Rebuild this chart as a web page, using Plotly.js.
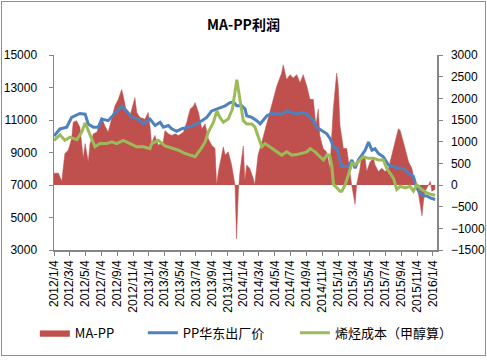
<!DOCTYPE html>
<html><head><meta charset="utf-8">
<script src="https://cdn.plot.ly/plotly-3.0.1.min.js"></script>
<style>
html,body{margin:0;padding:0;background:#fff;}
#wrap{position:relative;width:487px;height:360px;}
#chart{width:487px;height:360px;}
#frame{position:absolute;left:1px;top:1px;width:483px;height:353px;border:1px solid #8e8e8e;pointer-events:none;}
</style></head><body>
<div id="wrap"><div id="chart"></div><div id="frame"></div></div>
<script>
// ---- data ----
const seriesNames = ['MA-PP', 'PP华东出厂价', '烯烃成本（甲醇算）'];
const xTickLabels = ['2012/1/4','2012/3/4','2012/5/4','2012/7/4','2012/9/4','2012/11/4',
  '2013/1/4','2013/3/4','2013/5/4','2013/7/4','2013/9/4','2013/11/4',
  '2014/1/4','2014/3/4','2014/5/4','2014/7/4','2014/9/4','2014/11/4',
  '2015/1/4','2015/3/4','2015/5/4','2015/7/4','2015/9/4','2015/11/4','2016/1/4'];

const profitDates = ['2012-01-04','2012-01-21','2012-02-03','2012-02-09','2012-02-15','2012-02-28','2012-03-12','2012-03-18','2012-03-31','2012-04-13','2012-04-26','2012-05-03','2012-05-15','2012-05-22','2012-06-04','2012-06-17','2012-07-06','2012-07-18','2012-07-31','2012-08-13','2012-08-26','2012-09-08','2012-09-21','2012-09-27','2012-10-10','2012-10-23','2012-11-05','2012-11-11','2012-11-18','2012-11-30','2012-12-20','2013-01-01','2013-01-08','2013-01-14','2013-01-27','2013-02-09','2013-02-28','2013-03-07','2013-03-20','2013-04-02','2013-04-15','2013-04-28','2013-05-17','2013-05-30','2013-06-12','2013-06-25','2013-07-01','2013-07-14','2013-07-27','2013-08-09','2013-08-21','2013-09-03','2013-09-16','2013-09-22','2013-09-29','2013-10-09','2013-10-18','2013-10-25','2013-11-06','2013-11-19','2013-11-25','2013-12-02','2013-12-08','2013-12-15','2013-12-21','2013-12-28','2014-01-03','2014-01-09','2014-01-16','2014-01-28','2014-02-10','2014-02-16','2014-03-01','2014-03-14','2014-04-03','2014-04-23','2014-05-12','2014-05-31','2014-06-06','2014-06-19','2014-07-02','2014-07-15','2014-07-28','2014-08-10','2014-08-22','2014-09-05','2014-09-17','2014-09-30','2014-10-10','2014-10-19','2014-10-25','2014-11-07','2014-11-20','2014-12-03','2014-12-16','2014-12-29','2015-01-04','2015-01-11','2015-01-24','2015-02-06','2015-02-12','2015-02-25','2015-03-10','2015-03-16','2015-03-29','2015-04-05','2015-04-18','2015-04-24','2015-05-07','2015-05-20','2015-05-26','2015-06-08','2015-06-21','2015-07-04','2015-07-17','2015-07-30','2015-08-12','2015-08-24','2015-08-31','2015-09-06','2015-09-19','2015-10-02','2015-10-15','2015-10-28','2015-11-10','2015-11-16','2015-11-23','2015-11-29','2015-12-05','2015-12-18','2015-12-25','2015-12-31','2016-01-13'];
const profitValues = [273,273,84,386,727,803,1068,1447,1484,1333,614,955,538,955,1182,1220,1561,1370,1220,1523,1825,1977,2205,2053,1675,1600,1901,2016,1675,1561,1520,1675,1370,955,1145,920,993,1257,1182,1145,1182,1145,1220,1447,1750,1825,1901,1675,1296,1410,1068,920,841,0,311,614,880,690,766,462,235,0,-1243,-144,300,614,900,100,462,380,160,0,690,955,1410,1864,2280,2583,2773,2432,2546,2470,2546,2357,2546,2280,1977,1977,1371,1750,1145,841,766,386,1750,2583,2300,1371,841,841,538,0,-447,0,380,690,614,311,538,614,462,311,386,311,386,690,1030,1296,1260,1145,841,538,386,0,-220,-447,-712,-370,-144,0,84,-144,-100];

const priceDates = ['2012-01-04','2012-01-27','2012-02-22','2012-03-12','2012-04-13','2012-05-03','2012-05-15','2012-06-04','2012-06-23','2012-07-06','2012-07-31','2012-08-26','2012-09-21','2012-10-10','2012-10-30','2012-11-24','2012-12-14','2013-01-08','2013-01-28','2013-02-16','2013-03-01','2013-03-20','2013-04-02','2013-04-21','2013-05-11','2013-06-05','2013-07-01','2013-07-27','2013-08-15','2013-09-03','2013-09-29','2013-10-25','2013-11-13','2013-11-26','2013-12-09','2013-12-28','2014-01-10','2014-01-16','2014-02-05','2014-02-24','2014-03-09','2014-03-21','2014-04-04','2014-04-23','2014-05-12','2014-05-31','2014-06-20','2014-07-09','2014-07-28','2014-08-17','2014-09-05','2014-09-18','2014-09-30','2014-10-13','2014-11-02','2014-11-21','2014-12-04','2014-12-17','2014-12-30','2015-01-11','2015-01-18','2015-01-31','2015-02-12','2015-02-26','2015-03-10','2015-03-23','2015-04-05','2015-04-18','2015-05-01','2015-05-14','2015-05-26','2015-06-08','2015-06-27','2015-07-17','2015-08-05','2015-08-24','2015-09-13','2015-10-02','2015-10-21','2015-11-03','2015-11-16','2015-11-29','2015-12-12','2015-12-25','2016-01-13'];
const priceValues = [10010,10450,10560,11160,11400,11360,10760,10560,10560,11060,10960,11420,11870,11560,11160,11060,10760,11060,10660,10860,10560,10660,10460,10300,10460,10560,10700,10960,11160,11560,11700,11870,12070,12100,11870,11870,11670,11260,11160,10960,10760,10960,11260,11400,11360,11360,11560,11460,11360,11460,11360,11160,10960,10560,10350,10150,9850,9350,9240,8640,8140,8140,8140,8540,8030,8540,8840,9140,9650,9140,9240,8940,8740,8230,8140,8030,8030,7730,7530,6820,6520,6320,6320,6210,6110];

const costDates = ['2012-01-04','2012-01-27','2012-02-15','2012-03-06','2012-04-01','2012-04-20','2012-05-03','2012-05-22','2012-06-10','2012-06-29','2012-07-25','2012-08-14','2012-09-02','2012-09-27','2012-10-23','2012-11-18','2012-12-14','2013-01-08','2013-01-15','2013-02-09','2013-03-07','2013-04-02','2013-04-28','2013-05-23','2013-06-18','2013-07-01','2013-07-20','2013-08-09','2013-08-21','2013-09-10','2013-09-23','2013-10-05','2013-10-18','2013-11-06','2013-11-22','2013-12-02','2013-12-09','2013-12-15','2013-12-24','2014-01-03','2014-01-16','2014-02-05','2014-02-17','2014-03-02','2014-03-15','2014-03-28','2014-04-16','2014-05-06','2014-05-31','2014-06-20','2014-07-09','2014-07-28','2014-08-17','2014-09-05','2014-09-18','2014-10-07','2014-10-26','2014-11-08','2014-11-21','2014-12-01','2014-12-10','2014-12-17','2014-12-30','2015-01-11','2015-01-18','2015-01-31','2015-02-12','2015-02-26','2015-03-10','2015-03-23','2015-04-11','2015-05-01','2015-05-20','2015-06-08','2015-06-27','2015-07-10','2015-07-23','2015-08-05','2015-08-18','2015-08-31','2015-09-19','2015-10-08','2015-10-21','2015-11-03','2015-11-22','2015-12-12','2015-12-31','2016-01-13'];
const costValues = [9750,10090,9750,9950,9790,10250,10820,10050,9350,9550,9550,9650,9550,9750,9550,9350,9350,9240,9550,9750,9410,9290,9140,8940,8800,8740,9140,9650,10250,10860,11560,11160,10860,11060,11670,12880,13480,12880,11870,10960,10760,10760,10560,9950,9350,9550,9350,9140,8840,9040,8840,8870,8940,9040,9240,9040,8740,8540,8840,8840,8230,7020,6820,6620,6620,7020,7620,8340,8240,8440,8740,8640,8640,8540,8540,8030,7730,7420,6720,6920,6820,6920,6620,7020,6720,6520,6410,6370];

// ---- build ----
const pad = n => String(n).padStart(2, '0');
const xTickVals = xTickLabels.map(s => { const [y, m, d] = s.split('/'); return `${y}-${pad(m)}-${pad(d)}`; });

const RED = '#C0504D', BLUE = '#4F81BD', GREEN = '#9BBB59', AXIS = '#868686';
const CJK = '"Noto Sans CJK SC", "Noto Sans", sans-serif';

const traces = [
  { type: 'scatter', mode: 'lines', name: seriesNames[0], x: profitDates, y: profitValues,
    yaxis: 'y', fill: 'tozeroy', fillcolor: RED, line: { color: RED, width: 0.5 }, legend: 'legend' },
  { type: 'scatter', mode: 'lines', name: seriesNames[1], x: priceDates, y: priceValues,
    yaxis: 'y2', line: { color: BLUE, width: 3 }, legend: 'legend2' },
  { type: 'scatter', mode: 'lines', name: seriesNames[2], x: costDates, y: costValues,
    yaxis: 'y2', line: { color: GREEN, width: 3 }, legend: 'legend3' }
];

const legendBase = { orientation: 'h', xanchor: 'left', yanchor: 'middle', y: -0.424,
  bgcolor: 'rgba(0,0,0,0)', borderwidth: 0, font: { family: CJK, size: 13, color: '#000' } };

const layout = {
  width: 487, height: 360,
  margin: { l: 54, r: 50, t: 55, b: 107 },
  paper_bgcolor: '#fff', plot_bgcolor: '#fff',
  font: { family: '"Liberation Sans", Arial, sans-serif', size: 12, color: '#000' },
  title: { text: 'MA-PP利润', font: { family: CJK, size: 14, weight: 'bold', color: '#000' },
    x: 0.5, xref: 'container', xanchor: 'center', y: 1 - 25 / 360, yref: 'container', yanchor: 'middle' },
  showlegend: true,
  xaxis: { type: 'date', range: ['2012-01-04', '2016-01-20'], tickmode: 'array', tickvals: xTickVals, ticktext: xTickLabels,
    tickangle: -90, ticks: 'outside', ticklen: 4, tickcolor: AXIS, tickwidth: 1,
    showline: true, linecolor: AXIS, linewidth: 1.5, showgrid: false, zeroline: false },
  yaxis: { range: [-1500, 3000], tick0: 0, dtick: 500, tickformat: 'd', side: 'right', showline: true, linecolor: AXIS, linewidth: 1.5,
    ticks: 'outside', ticklen: 4, tickcolor: AXIS, showgrid: false, zeroline: false, ticklabelstandoff: 6 },
  yaxis2: { range: [3000, 15000], tick0: 3000, dtick: 2000, tickformat: 'd', overlaying: 'y', side: 'left', anchor: 'x',
    showline: true, linecolor: AXIS, linewidth: 1.5, ticks: 'outside', ticklen: 4, tickcolor: AXIS,
    showgrid: false, zeroline: false, ticklabelstandoff: 9 },
  legend: Object.assign({}, legendBase, { x: -0.05 }),
  legend2: Object.assign({}, legendBase, { x: 0.232 }),
  legend3: Object.assign({}, legendBase, { x: 0.629 })
};

Plotly.newPlot('chart', traces, layout, { staticPlot: true, displayModeBar: false });
</script>
</body></html>
